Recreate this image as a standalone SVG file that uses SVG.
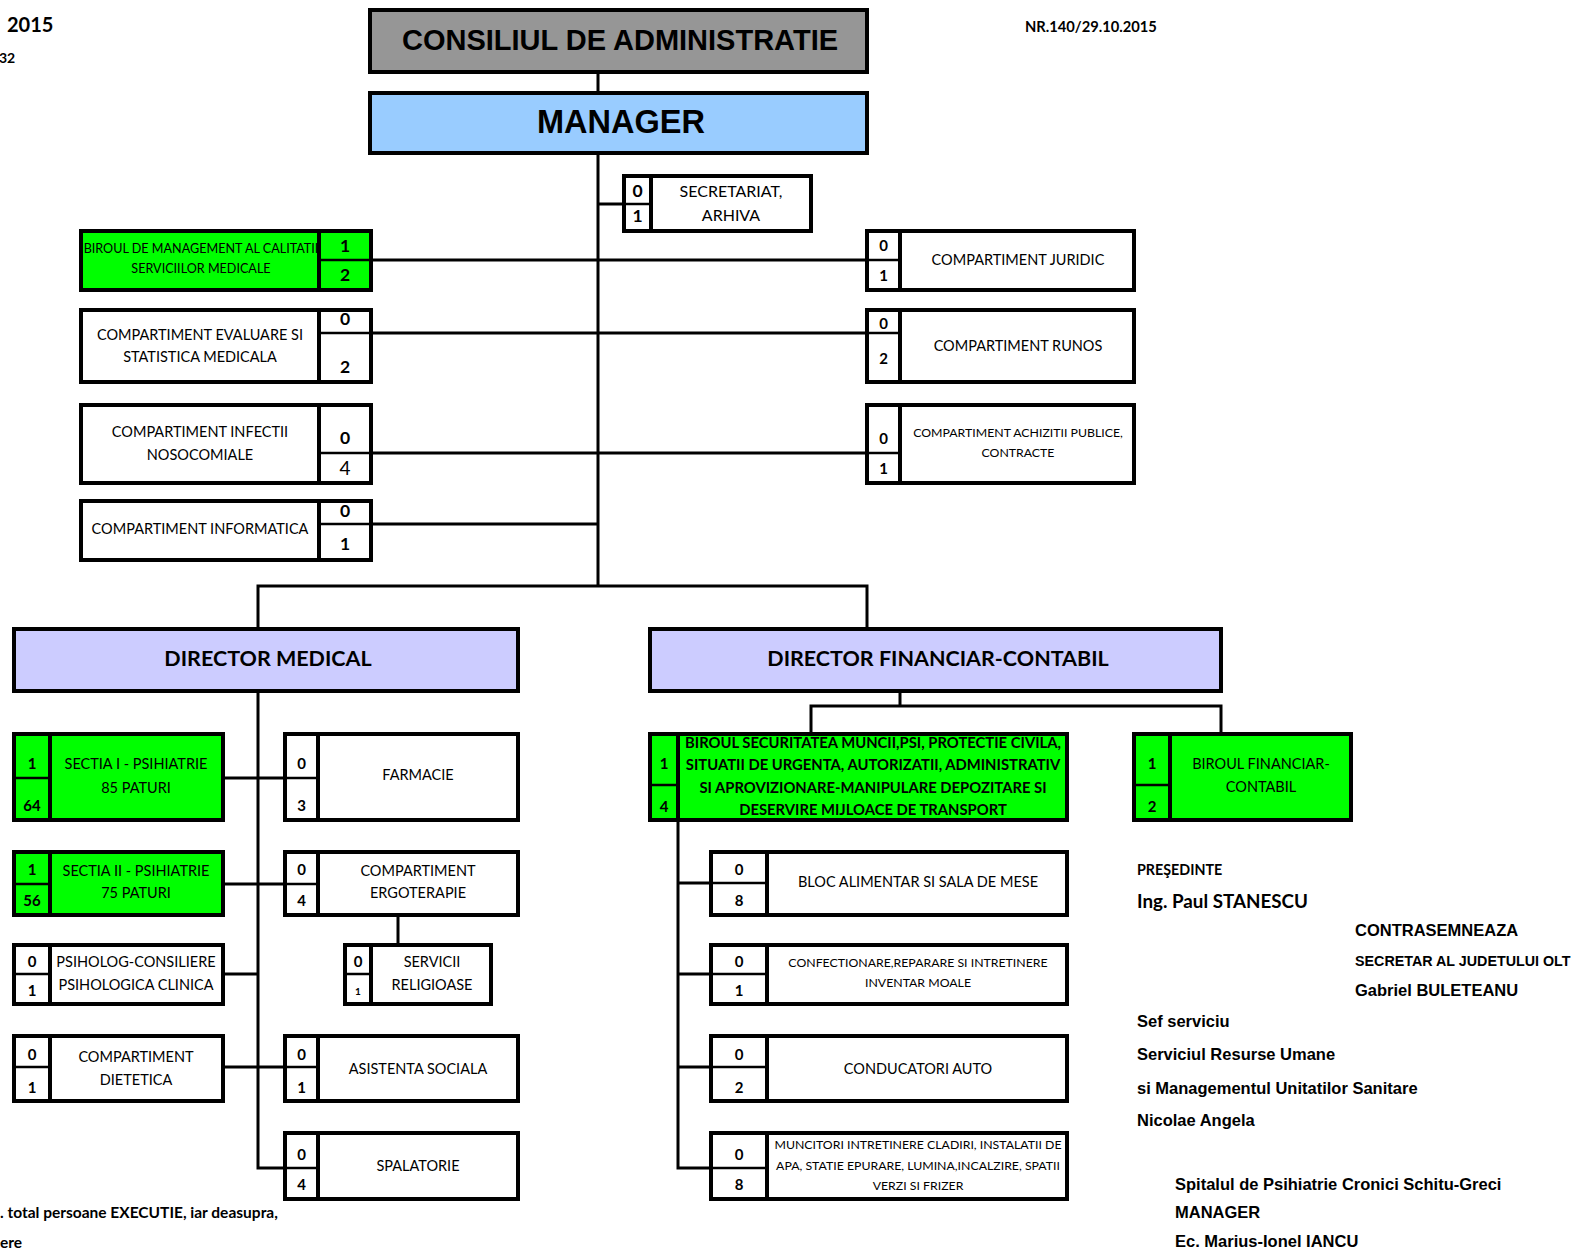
<svg xmlns="http://www.w3.org/2000/svg" width="1581" height="1249" viewBox="0 0 1581 1249">
<style>
.bx{stroke:#000;stroke-width:4;fill:#fff}
.gr{fill:#00ff00}
.sep{stroke:#000;stroke-width:4}
.mid{stroke:#000;stroke-width:2.5}
.ln{stroke:#000;stroke-width:3;fill:none}
text{font-family:Lato,"Liberation Sans",sans-serif;text-anchor:middle;dominant-baseline:central;fill:#000}
.t{font-size:14.5px}
.s{font-size:12.3px}
.n{font-size:15px;font-weight:bold}
.nb{font-size:17.5px;font-weight:bold}
.hd{font-family:"Liberation Sans",Arial,sans-serif;font-weight:bold}
.dr{font-size:21.5px;font-weight:bold}
.bs{font-size:14.8px;font-weight:bold}
.sg{font-family:"Liberation Sans",Arial,sans-serif;font-weight:bold;text-anchor:start;font-size:16.5px}
.sc{font-weight:bold;text-anchor:start}
</style>
<rect width="1581" height="1249" fill="#fff"/>

<!-- free texts -->
<text class="sc" x="7" y="24" style="font-size:20px">2015</text>
<text class="sc" x="-1" y="57" style="font-size:14px">32</text>
<text class="sc" x="1025" y="26" style="font-size:14.7px">NR.140/29.10.2015</text>
<text class="sc" x="0" y="1212" style="font-size:15.5px">. total persoane EXECUTIE, iar deasupra,</text>
<text class="sc" x="0" y="1242" style="font-size:15.5px">ere</text>
<text class="sc" x="1137" y="869" style="font-size:14.3px">PREŞEDINTE</text>
<text class="sc" x="1137" y="900" style="font-size:18.8px">Ing. Paul STANESCU</text>
<text class="sg" x="1355" y="930">CONTRASEMNEAZA</text>
<text class="sg" x="1355" y="961" style="font-size:14.3px">SECRETAR AL JUDETULUI OLT</text>
<text class="sg" x="1355" y="990">Gabriel BULETEANU</text>
<text class="sg" x="1137" y="1021">Sef serviciu</text>
<text class="sg" x="1137" y="1054">Serviciul Resurse Umane</text>
<text class="sg" x="1137" y="1088">si Managementul Unitatilor Sanitare</text>
<text class="sg" x="1137" y="1120">Nicolae Angela</text>
<text class="sg" x="1175" y="1184">Spitalul de Psihiatrie Cronici Schitu-Greci</text>
<text class="sg" x="1175" y="1212">MANAGER</text>
<text class="sg" x="1175" y="1241">Ec. Marius-Ionel IANCU</text>

<!-- connectors -->
<g id="connectors">
<path class="ln" d="M598 72V586"/>
<path class="ln" d="M598 204H624"/>
<path class="ln" d="M371 260H867"/>
<path class="ln" d="M371 333H867"/>
<path class="ln" d="M371 453H867"/>
<path class="ln" d="M371 524H598"/>
<path class="ln" d="M258 629V586H867V629"/>
<path class="ln" d="M258 691V1168H285"/>
<path class="ln" d="M223 778H285"/>
<path class="ln" d="M223 884H285"/>
<path class="ln" d="M223 974H258"/>
<path class="ln" d="M223 1067H285"/>
<path class="ln" d="M398 915V945"/>
<path class="ln" d="M900 691V706"/>
<path class="ln" d="M811 734V706H1221V734"/>
<path class="ln" d="M678 820V1168H711"/>
<path class="ln" d="M678 883H711"/>
<path class="ln" d="M678 974H711"/>
<path class="ln" d="M678 1067H711"/>
</g>

<g id="consiliu">
<rect class="bx" x="370" y="10" width="497" height="62" style="fill:#969696"/>
<text class="hd" x="620" y="40" style="font-size:29px">CONSILIUL DE ADMINISTRATIE</text>
</g>
<g id="manager">
<rect class="bx" x="370" y="93" width="497" height="60" style="fill:#99ccff"/>
<text class="hd" x="621" y="122" style="font-size:32.5px">MANAGER</text>
</g>

<g id="secretariat">
<rect class="bx" x="624" y="176" width="187" height="55"/>
<line class="sep" x1="651" y1="176" x2="651" y2="231"/>
<line class="mid" x1="624" y1="204" x2="651" y2="204"/>
<text class="nb" x="637.5" y="190">0</text><text class="nb" x="637.5" y="215">1</text>
<text x="731" y="190" style="font-size:16px">SECRETARIAT,</text><text x="731" y="214" style="font-size:16px">ARHIVA</text>
</g>

<g id="birou-calitate">
<rect class="bx gr" x="81" y="231" width="290" height="59"/>
<text x="201" y="248" style="font-size:12.6px">BIROUL DE MANAGEMENT AL CALITATII</text>
<text x="201" y="268" style="font-size:12.6px">SERVICIILOR MEDICALE</text>
<rect x="321" y="233" width="48" height="55" fill="#00ff00"/>
<line class="sep" x1="319" y1="231" x2="319" y2="290"/>
<line class="mid" x1="319" y1="260" x2="371" y2="260"/>
<text class="nb" x="345" y="245">1</text><text class="nb" x="345" y="274">2</text>
</g>

<g id="juridic">
<rect class="bx" x="867" y="231" width="267" height="59"/>
<line class="sep" x1="900" y1="231" x2="900" y2="290"/>
<line class="mid" x1="867" y1="260" x2="900" y2="260"/>
<text class="n" x="883.5" y="245">0</text><text class="n" x="883.5" y="275">1</text>
<text class="t" x="1018" y="259">COMPARTIMENT JURIDIC</text>
</g>

<g id="evaluare">
<rect class="bx" x="81" y="310" width="290" height="72"/>
<line class="sep" x1="319" y1="310" x2="319" y2="382"/>
<line class="mid" x1="319" y1="333" x2="371" y2="333"/>
<text class="nb" x="345" y="318">0</text><text class="nb" x="345" y="366">2</text>
<text class="t" x="200" y="334">COMPARTIMENT EVALUARE SI</text>
<text class="t" x="200" y="356">STATISTICA MEDICALA</text>
</g>

<g id="runos">
<rect class="bx" x="867" y="310" width="267" height="72"/>
<line class="sep" x1="900" y1="310" x2="900" y2="382"/>
<line class="mid" x1="867" y1="333" x2="900" y2="333"/>
<text class="n" x="883.5" y="323">0</text><text class="n" x="883.5" y="358">2</text>
<text class="t" x="1018" y="345">COMPARTIMENT RUNOS</text>
</g>

<g id="infectii">
<rect class="bx" x="81" y="405" width="290" height="78"/>
<line class="sep" x1="319" y1="405" x2="319" y2="483"/>
<line class="mid" x1="319" y1="453" x2="371" y2="453"/>
<text class="nb" x="345" y="437">0</text><text x="345" y="467" style="font-size:19px">4</text>
<text class="t" x="200" y="431">COMPARTIMENT INFECTII</text>
<text class="t" x="200" y="454">NOSOCOMIALE</text>
</g>

<g id="achizitii">
<rect class="bx" x="867" y="405" width="267" height="78"/>
<line class="sep" x1="900" y1="405" x2="900" y2="483"/>
<line class="mid" x1="867" y1="453" x2="900" y2="453"/>
<text class="n" x="883.5" y="438">0</text><text class="n" x="883.5" y="468">1</text>
<text class="s" x="1018" y="432">COMPARTIMENT ACHIZITII PUBLICE,</text>
<text class="s" x="1018" y="452">CONTRACTE</text>
</g>

<g id="informatica">
<rect class="bx" x="81" y="501" width="290" height="59"/>
<line class="sep" x1="319" y1="501" x2="319" y2="560"/>
<line class="mid" x1="319" y1="524" x2="371" y2="524"/>
<text class="nb" x="345" y="510">0</text><text class="nb" x="345" y="543">1</text>
<text class="t" x="200" y="528">COMPARTIMENT INFORMATICA</text>
</g>

<g id="director-medical">
<rect class="bx" x="14" y="629" width="504" height="62" style="fill:#ccccff"/>
<text class="dr" x="268" y="658">DIRECTOR MEDICAL</text>
</g>
<g id="director-financiar">
<rect class="bx" x="650" y="629" width="571" height="62" style="fill:#ccccff"/>
<text class="dr" x="938" y="658">DIRECTOR FINANCIAR-CONTABIL</text>
</g>

<g id="sectia1">
<rect class="bx gr" x="14" y="734" width="209" height="86"/>
<line class="sep" x1="50" y1="734" x2="50" y2="820"/>
<line class="mid" x1="14" y1="778" x2="50" y2="778"/>
<text class="n" x="32" y="763">1</text><text class="n" x="32" y="805">64</text>
<text class="t" x="136" y="763">SECTIA I - PSIHIATRIE</text>
<text class="t" x="136" y="787">85 PATURI</text>
</g>

<g id="farmacie">
<rect class="bx" x="285" y="734" width="233" height="86"/>
<line class="sep" x1="318" y1="734" x2="318" y2="820"/>
<line class="mid" x1="285" y1="778" x2="318" y2="778"/>
<text class="n" x="301.5" y="763">0</text><text class="n" x="301.5" y="805">3</text>
<text class="t" x="418" y="774">FARMACIE</text>
</g>

<g id="sectia2">
<rect class="bx gr" x="14" y="852" width="209" height="63"/>
<line class="sep" x1="50" y1="852" x2="50" y2="915"/>
<line class="mid" x1="14" y1="884" x2="50" y2="884"/>
<text class="n" x="32" y="869">1</text><text class="n" x="32" y="900">56</text>
<text class="t" x="136" y="870">SECTIA II - PSIHIATRIE</text>
<text class="t" x="136" y="892">75 PATURI</text>
</g>

<g id="ergoterapie">
<rect class="bx" x="285" y="852" width="233" height="63"/>
<line class="sep" x1="318" y1="852" x2="318" y2="915"/>
<line class="mid" x1="285" y1="884" x2="318" y2="884"/>
<text class="n" x="301.5" y="869">0</text><text class="n" x="301.5" y="900">4</text>
<text class="t" x="418" y="870">COMPARTIMENT</text>
<text class="t" x="418" y="892">ERGOTERAPIE</text>
</g>

<g id="servicii-religioase">
<rect class="bx" x="345" y="945" width="146" height="59"/>
<line class="sep" x1="371" y1="945" x2="371" y2="1004"/>
<line class="mid" x1="345" y1="974" x2="371" y2="974"/>
<text class="n" x="358" y="961">0</text><text x="358" y="991" style="font-size:10px;font-weight:bold">1</text>
<text class="t" x="432" y="961">SERVICII</text>
<text class="t" x="432" y="984">RELIGIOASE</text>
</g>

<g id="psiholog">
<rect class="bx" x="14" y="945" width="209" height="59"/>
<line class="sep" x1="50" y1="945" x2="50" y2="1004"/>
<line class="mid" x1="14" y1="974" x2="50" y2="974"/>
<text class="n" x="32" y="961">0</text><text class="n" x="32" y="990">1</text>
<text class="t" x="136" y="961">PSIHOLOG-CONSILIERE</text>
<text class="t" x="136" y="984">PSIHOLOGICA CLINICA</text>
</g>

<g id="dietetica">
<rect class="bx" x="14" y="1036" width="209" height="65"/>
<line class="sep" x1="50" y1="1036" x2="50" y2="1101"/>
<line class="mid" x1="14" y1="1067" x2="50" y2="1067"/>
<text class="n" x="32" y="1054">0</text><text class="n" x="32" y="1087">1</text>
<text class="t" x="136" y="1056">COMPARTIMENT</text>
<text class="t" x="136" y="1079">DIETETICA</text>
</g>

<g id="asistenta-sociala">
<rect class="bx" x="285" y="1036" width="233" height="65"/>
<line class="sep" x1="318" y1="1036" x2="318" y2="1101"/>
<line class="mid" x1="285" y1="1067" x2="318" y2="1067"/>
<text class="n" x="301.5" y="1054">0</text><text class="n" x="301.5" y="1087">1</text>
<text class="t" x="418" y="1068">ASISTENTA SOCIALA</text>
</g>

<g id="spalatorie">
<rect class="bx" x="285" y="1133" width="233" height="66"/>
<line class="sep" x1="318" y1="1133" x2="318" y2="1199"/>
<line class="mid" x1="285" y1="1168" x2="318" y2="1168"/>
<text class="n" x="301.5" y="1154">0</text><text class="n" x="301.5" y="1184">4</text>
<text class="t" x="418" y="1165">SPALATORIE</text>
</g>

<g id="birou-securitate">
<rect class="bx gr" x="650" y="734" width="417" height="86"/>
<line class="sep" x1="678" y1="734" x2="678" y2="820"/>
<line class="mid" x1="650" y1="785" x2="678" y2="785"/>
<text class="n" x="664" y="763">1</text><text class="n" x="664" y="806">4</text>
<text class="bs" x="873" y="742">BIROUL SECURITATEA MUNCII,PSI, PROTECTIE CIVILA,</text>
<text class="bs" x="873" y="764">SITUATII DE URGENTA, AUTORIZATII, ADMINISTRATIV</text>
<text class="bs" x="873" y="786.5">SI APROVIZIONARE-MANIPULARE DEPOZITARE SI</text>
<text class="bs" x="873" y="808.7">DESERVIRE MIJLOACE DE TRANSPORT</text>
</g>

<g id="birou-financiar">
<rect class="bx gr" x="1134" y="734" width="217" height="86"/>
<line class="sep" x1="1170" y1="734" x2="1170" y2="820"/>
<line class="mid" x1="1134" y1="785" x2="1170" y2="785"/>
<text class="n" x="1152" y="763">1</text><text class="n" x="1152" y="806">2</text>
<text class="t" x="1261" y="763">BIROUL FINANCIAR-</text>
<text class="t" x="1261" y="786">CONTABIL</text>
</g>

<g id="bloc-alimentar">
<rect class="bx" x="711" y="852" width="356" height="63"/>
<line class="sep" x1="767" y1="852" x2="767" y2="915"/>
<line class="mid" x1="711" y1="883" x2="767" y2="883"/>
<text class="n" x="739" y="869">0</text><text class="n" x="739" y="900">8</text>
<text class="t" x="918" y="881">BLOC ALIMENTAR SI SALA DE MESE</text>
</g>

<g id="confectionare">
<rect class="bx" x="711" y="945" width="356" height="59"/>
<line class="sep" x1="767" y1="945" x2="767" y2="1004"/>
<line class="mid" x1="711" y1="974" x2="767" y2="974"/>
<text class="n" x="739" y="961">0</text><text class="n" x="739" y="990">1</text>
<text class="s" x="918" y="962">CONFECTIONARE,REPARARE SI INTRETINERE</text>
<text class="s" x="918" y="982">INVENTAR MOALE</text>
</g>

<g id="conducatori-auto">
<rect class="bx" x="711" y="1036" width="356" height="65"/>
<line class="sep" x1="767" y1="1036" x2="767" y2="1101"/>
<line class="mid" x1="711" y1="1067" x2="767" y2="1067"/>
<text class="n" x="739" y="1054">0</text><text class="n" x="739" y="1087">2</text>
<text class="t" x="918" y="1068">CONDUCATORI AUTO</text>
</g>

<g id="muncitori">
<rect class="bx" x="711" y="1133" width="356" height="66"/>
<line class="sep" x1="767" y1="1133" x2="767" y2="1199"/>
<line class="mid" x1="711" y1="1168" x2="767" y2="1168"/>
<text class="n" x="739" y="1154">0</text><text class="n" x="739" y="1184">8</text>
<text class="s" x="918" y="1144">MUNCITORI INTRETINERE CLADIRI, INSTALATII DE</text>
<text class="s" x="918" y="1165">APA, STATIE EPURARE, LUMINA,INCALZIRE, SPATII</text>
<text class="s" x="918" y="1185">VERZI SI FRIZER</text>
</g>
</svg>
